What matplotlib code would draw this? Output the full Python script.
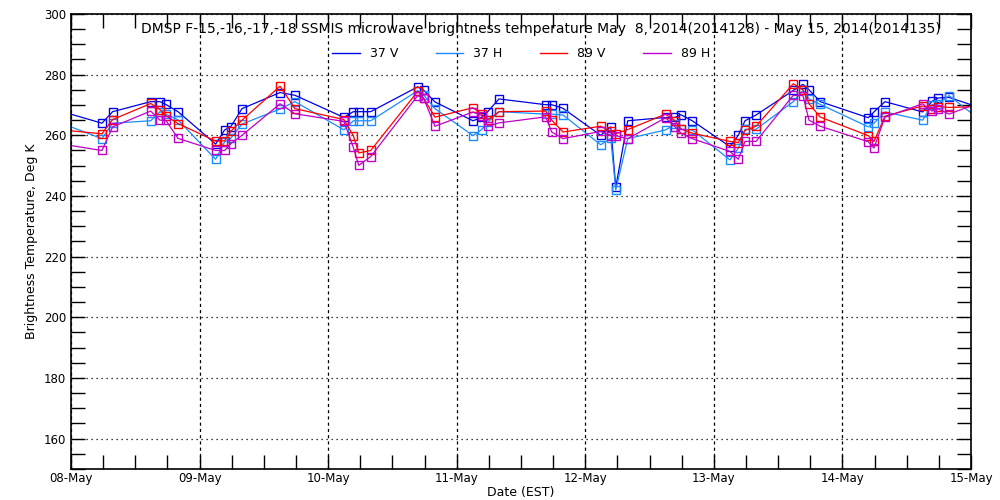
import matplotlib
matplotlib.use("Agg")
import matplotlib.pyplot as plt
import matplotlib.dates as mdates
from matplotlib.lines import Line2D
import pandas as pd

# pass times, days after 08-May-2014 00:00 EST (first/last are just outside the window)
day_offset = [-0.10, 0.241, 0.324, 0.620, 0.692, 0.737, 0.832, 1.125, 1.195, 1.242,
              1.330, 1.626, 1.742, 2.123, 2.196, 2.238, 2.331, 2.697, 2.743, 2.831,
              3.127, 3.194, 3.241, 3.329, 3.692, 3.739, 3.827, 4.120, 4.198, 4.237,
              4.330, 4.625, 4.698, 4.744, 4.832, 5.125, 5.190, 5.242, 5.328, 5.618,
              5.693, 5.740, 5.828, 6.201, 6.245, 6.331, 6.624, 6.697, 6.741, 6.829,
              7.10]

tb_37v = [268.2, 264.0, 267.8, 271.1, 271.1, 270.2, 267.8, 257.1, 261.8, 262.8,
          268.8, 274.1, 273.2, 265.9, 267.8, 267.8, 267.8, 276.0, 274.9, 271.0,
          264.8, 265.9, 267.8, 272.0, 270.1, 270.1, 268.9, 260.0, 262.8, 242.9,
          264.8, 265.9, 265.9, 266.8, 264.8, 256.3, 260.0, 264.8, 266.7, 274.8,
          276.8, 275.0, 271.1, 265.8, 267.7, 271.1, 267.7, 271.2, 272.3, 272.5,
          268.7]
tb_37h = [264.4, 258.9, 264.0, 264.8, 267.8, 267.0, 265.1, 252.1, 257.9, 259.0,
          263.7, 268.7, 271.1, 261.8, 264.8, 264.8, 264.8, 274.7, 273.3, 268.8,
          259.9, 261.9, 264.3, 267.8, 267.0, 267.0, 266.7, 256.9, 259.0, 242.0,
          258.9, 261.8, 263.6, 262.0, 261.8, 251.9, 255.7, 262.0, 262.0, 271.1,
          274.8, 272.0, 270.2, 262.8, 264.0, 267.7, 265.0, 270.1, 270.3, 273.1,
          264.1]
tb_89v = [261.9, 260.5, 265.2, 270.5, 268.5, 266.5, 263.9, 258.1, 258.2, 261.3,
          265.0, 276.2, 268.8, 265.2, 259.9, 254.2, 255.0, 274.5, 272.2, 266.0,
          269.1, 267.0, 265.0, 267.8, 268.0, 265.0, 261.1, 263.0, 261.3, 260.5,
          261.9, 267.0, 264.8, 262.1, 260.7, 258.0, 257.6, 261.6, 263.0, 277.0,
          275.0, 270.4, 266.0, 259.9, 258.0, 266.3, 269.7, 268.8, 269.5, 269.2,
          269.5]
tb_89h = [257.3, 255.0, 262.8, 268.0, 265.0, 265.0, 259.0, 255.0, 255.0, 257.2,
          260.0, 270.4, 267.1, 264.6, 256.0, 250.1, 253.0, 273.1, 272.2, 263.0,
          267.7, 266.5, 263.0, 264.1, 266.1, 261.1, 258.9, 261.3, 259.9, 259.9,
          258.9, 265.8, 262.8, 260.7, 258.9, 254.7, 252.1, 258.0, 258.0, 273.2,
          273.1, 265.0, 263.0, 257.9, 255.8, 266.0, 270.4, 268.0, 268.8, 267.0,
          271.3]

channels = ["37 V", "37 H", "89 V", "89 H"]
colors = ["#0000e6", "#1a8cff", "#ff0000", "#c000c8"]

times = pd.Timestamp("2014-05-08") + pd.to_timedelta(day_offset, unit="D")

fig = plt.figure(figsize=(10, 5), dpi=100)
ax = fig.add_axes([0.071, 0.062, 0.900, 0.910])

for vals, c in zip([tb_37v, tb_37h, tb_89v, tb_89h], colors):
    ax.plot(times, vals, color=c, lw=0.9, marker="s", ms=5.5, mfc="none",
            mec=c, mew=1.0)

ax.set_xlim(pd.Timestamp("2014-05-08"), pd.Timestamp("2014-05-15"))
ax.set_ylim(150, 300)
ax.set_yticks([160, 180, 200, 220, 240, 260, 280, 300])
ax.yaxis.set_minor_locator(plt.MultipleLocator(5))
ax.xaxis.set_major_locator(mdates.DayLocator())
ax.xaxis.set_minor_locator(mdates.HourLocator(byhour=[6, 12, 18]))
ax.xaxis.set_major_formatter(mdates.DateFormatter("%d-%b"))

ax.tick_params(which="both", direction="in", top=True, right=True,
               length=10, width=1, labelsize=8.5)
ax.tick_params(axis="x", which="major", pad=2)
for s in ax.spines.values():
    s.set_linewidth(1.2)

ax.grid(True, axis="y", which="major", color="black", lw=0.9, ls=(0, (1, 3)))
ax.grid(True, axis="x", which="major", color="black", lw=0.9, ls=(0, (2.5, 2.5)))

ax.set_xlabel("Date (EST)", fontsize=9, labelpad=1)
ax.set_ylabel("Brightness Temperature, Deg K", fontsize=9)

ax.text(0.522, 0.966,
        "DMSP F-15,-16,-17,-18 SSMIS microwave brightness temperature May  8, 2014(2014128) - May 15, 2014(2014135)",
        transform=ax.transAxes, ha="center", va="center", fontsize=10)

handles = [Line2D([], [], color=c, lw=1.0) for c in colors]
ax.legend(handles, channels, loc="upper center", bbox_to_anchor=(0.50, 0.952),
          ncol=4, frameon=False, fontsize=9, handlelength=2.2,
          handletextpad=0.8, columnspacing=3.0)

fig.savefig("out.png", dpi=100)
